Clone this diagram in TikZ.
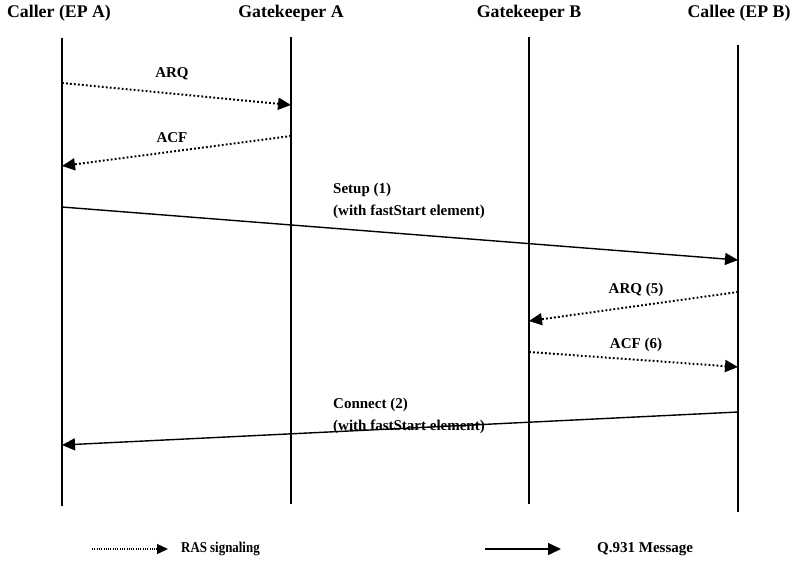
\documentclass[tikz,border=0pt]{standalone}
\usepackage{fontspec}
\setmainfont{Liberation Serif}
\usetikzlibrary{arrows.meta}
\begin{document}
\begin{tikzpicture}[x=1pt,y=-1pt,
  head/.style={font=\fontsize{17.8}{20}\selectfont\bfseries, inner sep=0pt},
  lbl/.style={font=\fontsize{15}{18}\selectfont\bfseries, inner sep=0pt},
  life/.style={line width=2pt},
  tip/.style={-{Triangle[length=13pt,width=12pt]}},
  q931/.style={tip, line width=1.4pt},
  ras/.style={tip, line width=2pt, dash pattern=on 1.8pt off 2.2pt},
  raslegend/.style={-{Triangle[length=11pt,width=10pt]}, line width=1.4pt, dash pattern=on 1pt off 1.3pt},
]
\useasboundingbox (0,0) rectangle (791,563);

% participants
\node[head] (hA)  at (59,13)  {Caller (EP A)};
\node[head] (hGA) at (291,13) {Gatekeeper A};
\node[head] (hGB) at (529,13) {Gatekeeper B};
\node[head] (hB)  at (739,13) {Callee (EP B)};

% lifelines
\coordinate (A0)  at (62,38);   \coordinate (A1)  at (62,506);
\coordinate (GA0) at (291,37);  \coordinate (GA1) at (291,504);
\coordinate (GB0) at (529,37);  \coordinate (GB1) at (529,504);
\coordinate (B0)  at (738,45);  \coordinate (B1)  at (738,512);
\draw[life] (A0) -- (A1);
\draw[life] (GA0) -- (GA1);
\draw[life] (GB0) -- (GB1);
\draw[life] (B0) -- (B1);

% message end points
\coordinate (m1s) at (62,83);   \coordinate (m1e) at (291,105);
\coordinate (m2s) at (291,136); \coordinate (m2e) at (62,166);
\coordinate (m3s) at (62,207);  \coordinate (m3e) at (738,260);
\coordinate (m4s) at (738,292); \coordinate (m4e) at (529,321);
\coordinate (m5s) at (529,352); \coordinate (m5e) at (738,367);
\coordinate (m6s) at (738,412); \coordinate (m6e) at (62,445);

% messages
\draw[ras]  (m1s) -- (m1e);
\draw[ras]  (m2s) -- (m2e);
\draw[q931] (m3s) -- (m3e);
\draw[ras]  (m4s) -- (m4e);
\draw[ras]  (m5s) -- (m5e);
\draw[q931] (m6s) -- (m6e);

% message labels
\node[lbl] (l1) at (172,74)  {ARQ};
\node[lbl] (l2) at (172,138) {ACF};
\node[lbl, anchor=west] (l3a) at (333,190) {Setup (1)};
\node[lbl, anchor=west] (l3b) at (333,212) {(with fastStart element)};
\node[lbl] (l4) at (636,290) {ARQ (5)};
\node[lbl] (l5) at (636,345) {ACF (6)};
\node[lbl, anchor=west] (l6a) at (333,405) {Connect (2)};
\node[lbl, anchor=west] (l6b) at (333,427) {(with fastStart element)};

% legend
\coordinate (k1s) at (92,549);  \coordinate (k1e) at (168,549);
\coordinate (k2s) at (485,549); \coordinate (k2e) at (561,549);
\draw[raslegend] (k1s) -- (k1e);
\draw[q931] (k2s) -- (k2e);
\node[lbl, anchor=west] (kr) at (181,549) {\scalebox{0.86}[1]{RAS signaling}};
\node[lbl, anchor=west] (kq) at (597,549) {Q.931 Message};
\end{tikzpicture}
\end{document}
